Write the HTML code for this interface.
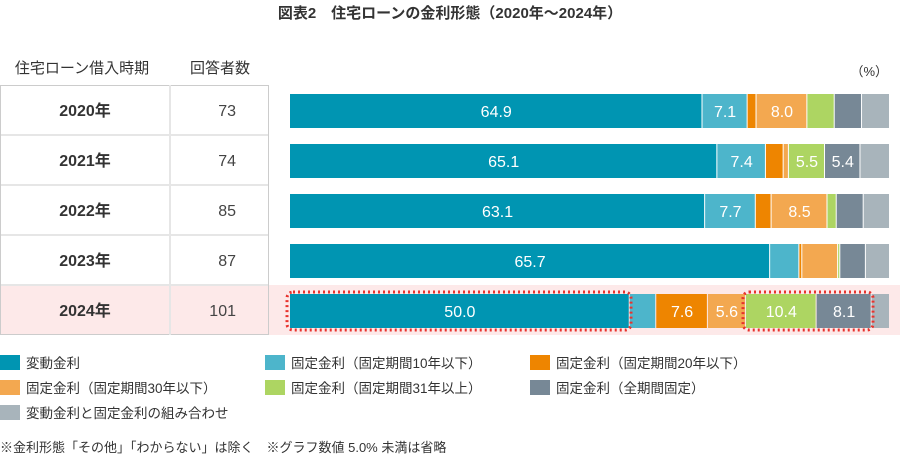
<!DOCTYPE html>
<html><head><meta charset="utf-8">
<style>
body{margin:0;width:900px;height:462px;background:#fff;overflow:hidden;font-family:"Liberation Sans","Noto Sans CJK JP",sans-serif;color:#333}
svg text{font-family:"Liberation Sans","Noto Sans CJK JP",sans-serif}
</style></head><body>
<svg width="900" height="462" xmlns="http://www.w3.org/2000/svg">
<text x="450" y="18" text-anchor="middle" font-size="15" font-weight="bold" fill="#333">図表2　住宅ローンの金利形態（2020年～2024年）</text>
<text x="82" y="73" text-anchor="middle" font-size="15" fill="#333">住宅ローン借入時期</text>
<text x="220" y="73" text-anchor="middle" font-size="15" fill="#333">回答者数</text>
<text x="888" y="76" text-anchor="end" font-size="13" fill="#333">（%）</text>
<rect x="0" y="285" width="900" height="50" fill="#fde9e9"/>
<g id="table"></g>
<g id="bars"></g>
<g id="legend"></g>
<rect x="287" y="292" width="344" height="38" rx="6" fill="none" stroke="#e8322c" stroke-width="3" stroke-dasharray="2,3"/>
<rect x="743" y="292" width="130" height="38" rx="6" fill="none" stroke="#e8322c" stroke-width="3" stroke-dasharray="2,3"/>
<text x="0" y="452" font-size="13" fill="#333">※金利形態「その他」「わからない」は除く　※グラフ数値 5.0% 未満は省略</text>
</svg>
<script>
const years=["2020年","2021年","2022年","2023年","2024年"];
const counts=[73,74,85,87,101];
const seriesNames=["変動金利","固定金利（固定期間10年以下）","固定金利（固定期間20年以下）","固定金利（固定期間30年以下）","固定金利（固定期間31年以上）","固定金利（全期間固定）","変動金利と固定金利の組み合わせ"];
const variable=[64.9,65.1,63.1,65.7,50.0];
const fixed10=[7.1,7.4,7.7,4.0,3.9];
const fixed20=[1.4,2.7,2.4,0.4,7.6];
const fixed30=[8.0,0.8,8.5,4.9,5.6];
const fixed31=[4.3,5.5,1.4,0.3,10.4];
const fixedAll=[4.3,5.4,4.1,3.5,8.1];
const mixed=[4.4,4.5,4.0,3.3,2.7];
const colors=["#0095b2","#4db5cb","#ee8500","#f3a850","#add562","#778896","#a8b4bb"];
const series=[variable,fixed10,fixed20,fixed30,fixed31,fixedAll,mixed];
const NS="http://www.w3.org/2000/svg";
function mk(tag,attrs,parent){const e=document.createElementNS(NS,tag);for(const k in attrs)e.setAttribute(k,attrs[k]);parent.appendChild(e);return e;}
const X0=290,W=600,rowTop=85,rowH=50,barH=34;
const rowY=i=>rowTop+i*rowH;
const table=document.getElementById('table');
years.forEach((y,i)=>{
  const t=mk('text',{x:85,y:rowY(i)+31,'text-anchor':'middle','font-size':16,'font-weight':'bold',fill:'#333'},table);t.textContent=y;
  
  
  const c=mk('text',{x:236,y:rowY(i)+31,'text-anchor':'end','font-size':16,fill:'#444'},table);c.textContent=counts[i];
  
  
  if(i>0){const l=mk('line',{x1:1,x2:268,y1:rowY(i),y2:rowY(i),stroke:'#e6e6e6','stroke-width':2},table);
  
  }
});
mk('rect',{x:0.5,y:rowTop+0.5,width:268,height:rowH*5-1,fill:'none',stroke:'#ccc'},table);
mk('line',{x1:170,x2:170,y1:rowTop,y2:rowTop+rowH*5,stroke:'#e6e6e6','stroke-width':2},table);
const bars=document.getElementById('bars');
years.forEach((y,i)=>{
  const tot=series.reduce((s,a)=>s+a[i],0);
  let x=X0;
  series.forEach((arr,k)=>{
    const w=arr[i]/tot*W;
    const r=mk('rect',{x:x,y:rowY(i)+9,width:Math.max(w-1,0.5),height:barH,fill:colors[k]},bars);
    
    
    if(arr[i]>=5){const t=mk('text',{x:x+w/2,y:rowY(i)+32,'text-anchor':'middle','font-size':16,fill:'#fff'},bars);t.textContent=arr[i].toFixed(1);
    
    }
    x+=w;
  });
});
const legend=document.getElementById('legend');
const lx=[0,265,530],ly=[355,380,405];
seriesNames.forEach((n,k)=>{
  const cx=lx[k%3],cy=ly[Math.floor(k/3)];
  const r=mk('rect',{x:cx,y:cy,width:20,height:15,fill:colors[k]},legend);
  
  
  const t=mk('text',{x:cx+26,y:cy+13,'font-size':13.5,fill:'#333'},legend);t.textContent=n;
  
  
});
</script>
</body></html>
